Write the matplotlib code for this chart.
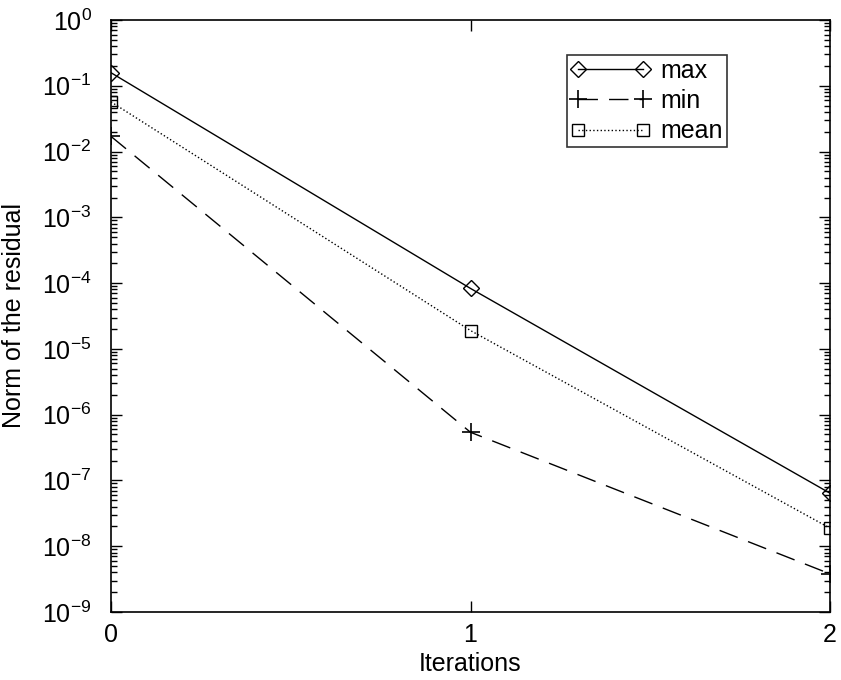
import numpy as np
import matplotlib
matplotlib.use("Agg")
import matplotlib.pyplot as plt
from matplotlib.ticker import LogLocator, NullFormatter

plt.rcParams["font.family"] = ["Liberation Sans", "DejaVu Sans"]
plt.rcParams["mathtext.fontset"] = "custom"
plt.rcParams["mathtext.rm"] = "Liberation Sans"
plt.rcParams["mathtext.default"] = "regular"

iterations = [0, 1, 2]
res_max = [1.58e-1, 8.3e-5, 6.4e-8]
res_min = [1.7e-2, 5.4e-7, 3.8e-9]
res_mean = [5.7e-2, 1.9e-5, 1.88e-8]

fig = plt.figure(figsize=(8.41, 6.8), dpi=100)
ax = fig.add_axes([111 / 841, 1 - 612 / 680, 719 / 841, 592 / 680])

ax.semilogy(iterations, res_max, "k-", marker="D", markersize=8, mfc="none",
            mew=1.0, lw=1.0, label="max")
ax.semilogy(iterations, res_min, "k--", marker="+", markersize=13, mew=1.2,
            lw=1.0, dashes=(14, 8), label="min")
ax.semilogy(iterations, res_mean, "k:", marker="s", markersize=8, mfc="none",
            mew=1.0, lw=1.0, label="mean")

ax.set_xlim(0, 2)
ax.set_ylim(1e-9, 1e0)
ax.set_xticks(iterations)
ax.yaxis.set_major_locator(LogLocator(base=10, numticks=20))
ax.yaxis.set_minor_locator(LogLocator(base=10, subs=np.arange(2, 10), numticks=20))
ax.yaxis.set_minor_formatter(NullFormatter())
ax.tick_params(which="both", direction="in", top=True, right=True, labelsize=18, width=1)
ax.tick_params(which="major", length=8)
ax.tick_params(which="minor", length=4)
ax.tick_params(axis="y", which="major", pad=14)
ax.tick_params(axis="x", which="major", pad=8)
for s in ax.spines.values():
    s.set_linewidth(1.2)

ax.set_xlabel("Iterations", fontsize=18)
ax.set_ylabel("Norm of the residual", fontsize=18)
ax.xaxis.set_label_coords(0.5, -0.068)
ax.yaxis.set_label_coords(-0.118, 0.5)

leg = ax.legend(loc="upper right", bbox_to_anchor=((727 - 111) / 719, 1 - 35 / 592),
                borderaxespad=0, numpoints=2, fontsize=18, frameon=True,
                fancybox=False, edgecolor="black", handlelength=3.2,
                borderpad=0.15, labelspacing=0.25, handletextpad=0.4)
leg.get_frame().set_linewidth(1.2)

fig.savefig("out.png", dpi=100)
